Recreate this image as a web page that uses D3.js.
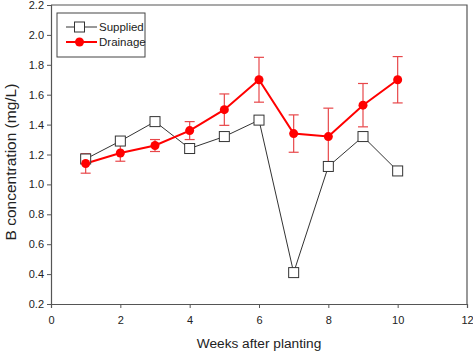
<!DOCTYPE html>
<html>
<head>
<meta charset="utf-8">
<script src="https://cdn.jsdelivr.net/npm/d3@7"></script>
<style>
  body { margin: 0; background: #fff; }
  text { font-family: "Liberation Sans", Arial, sans-serif; fill: #222; }
</style>
</head>
<body>
<svg id="chart" width="473" height="353"></svg>
<script>
const weeks = [1, 2, 3, 4, 5, 6, 7, 8, 9, 10];
const supplied = [1.17, 1.29, 1.42, 1.24, 1.32, 1.43, 0.41, 1.12, 1.32, 1.09];
const drainage = [1.14, 1.21, 1.26, 1.36, 1.50, 1.70, 1.34, 1.32, 1.53, 1.70];
const drainageErr = [0.065, 0.055, 0.04, 0.06, 0.105, 0.15, 0.125, 0.19, 0.145, 0.155];
const xTicks = [0, 2, 4, 6, 8, 10, 12];
const yTicks = [0.2, 0.4, 0.6, 0.8, 1.0, 1.2, 1.4, 1.6, 1.8, 2.0, 2.2];

const svg = d3.select("#chart");
const margin = { top: 5, right: 6, bottom: 49, left: 51 };
const width = +svg.attr("width");
const height = +svg.attr("height");
const innerWidth = width - margin.left - margin.right;
const innerHeight = height - margin.top - margin.bottom;

const g = svg.append("g")
  .attr("transform", `translate(${margin.left},${margin.top})`);

const x = d3.scaleLinear().domain([0, 12]).range([0, innerWidth]);
const y = d3.scaleLinear().domain([0.2, 2.2]).range([innerHeight, 0]);

// frame (top and right)
g.append("path")
  .attr("d", `M0,0H${innerWidth}V${innerHeight}`)
  .attr("fill", "none")
  .attr("stroke", "#555")
  .attr("stroke-width", 1.2);

// axes
const xAxisG = g.append("g")
  .attr("transform", `translate(0,${innerHeight})`)
  .call(d3.axisBottom(x).tickValues(xTicks).tickSize(4).tickPadding(8).tickFormat(d3.format("d")));

const yAxisG = g.append("g")
  .call(d3.axisLeft(y).tickValues(yTicks).tickSize(4).tickPadding(3).tickFormat(d3.format(".1f")));

[xAxisG, yAxisG].forEach(a => {
  a.select(".domain").attr("stroke", "#555").attr("stroke-width", 1.2);
  a.selectAll(".tick line").attr("stroke", "#555");
  a.selectAll("text").style("font-size", "11px").attr("fill", "#333");
});

// axis titles
svg.append("text")
  .attr("x", margin.left + x(6))
  .attr("y", 348)
  .attr("text-anchor", "middle")
  .style("font-size", "13.7px")
  .text("Weeks after planting");

svg.append("text")
  .attr("transform", "translate(16,162) rotate(-90)")
  .attr("text-anchor", "middle")
  .style("font-size", "15.5px")
  .text("B concentration (mg/L)");

// supplied series
const line = d3.line()
  .x((d, i) => x(weeks[i]))
  .y(d => y(d));

g.append("path")
  .datum(supplied)
  .attr("d", line)
  .attr("fill", "none")
  .attr("stroke", "#333")
  .attr("stroke-width", 1);

// drainage error bars
const errG = g.append("g").attr("stroke", "#e8474a").attr("stroke-width", 1.2);
drainage.forEach((v, i) => {
  const cx = x(weeks[i]);
  const top = y(v + drainageErr[i]);
  const bot = y(v - drainageErr[i]);
  errG.append("line").attr("x1", cx).attr("x2", cx).attr("y1", top).attr("y2", bot);
  errG.append("line").attr("x1", cx - 5).attr("x2", cx + 5).attr("y1", top).attr("y2", top);
  errG.append("line").attr("x1", cx - 5).attr("x2", cx + 5).attr("y1", bot).attr("y2", bot);
});

g.append("path")
  .datum(drainage)
  .attr("d", line)
  .attr("fill", "none")
  .attr("stroke", "#f00")
  .attr("stroke-width", 2);

// supplied markers
g.selectAll(".sq")
  .data(supplied)
  .enter()
  .append("rect")
  .attr("class", "sq")
  .attr("x", (d, i) => x(weeks[i]) - 5)
  .attr("y", d => y(d) - 5)
  .attr("width", 10)
  .attr("height", 10)
  .attr("fill", "#fff")
  .attr("stroke", "#333")
  .attr("stroke-width", 1);

// drainage markers
g.selectAll(".dot")
  .data(drainage)
  .enter()
  .append("circle")
  .attr("class", "dot")
  .attr("cx", (d, i) => x(weeks[i]))
  .attr("cy", d => y(d))
  .attr("r", 4.5)
  .attr("fill", "#f00");

// legend
const legend = svg.append("g").attr("transform", "translate(57,13)");
legend.append("rect")
  .attr("width", 88)
  .attr("height", 44)
  .attr("fill", "#fff")
  .attr("stroke", "#444")
  .attr("stroke-width", 1);

const items = [
  { name: "Supplied", color: "#333", width: 1 },
  { name: "Drainage", color: "#f00", width: 2 }
];
items.forEach((it, i) => {
  const row = legend.append("g").attr("transform", `translate(0,${14 + i * 15})`);
  row.append("line")
    .attr("x1", 9).attr("x2", 40)
    .attr("stroke", it.color).attr("stroke-width", it.width);
  if (i === 0) {
    row.append("rect").attr("x", 17.5).attr("y", -5).attr("width", 10).attr("height", 10)
      .attr("fill", "#fff").attr("stroke", "#333");
  } else {
    row.append("circle").attr("cx", 22.5).attr("r", 4.5).attr("fill", "#f00");
  }
  row.append("text")
    .attr("x", 42)
    .attr("y", 4)
    .style("font-size", "11.5px")
    .text(it.name);
});
</script>
</body>
</html>
